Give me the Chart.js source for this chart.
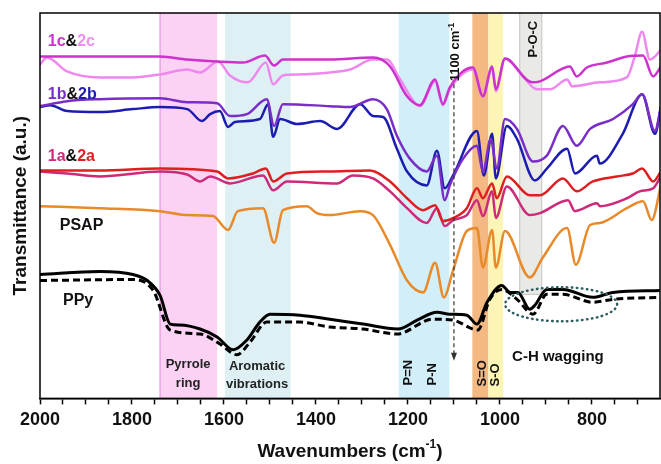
<!DOCTYPE html>
<html>
<head>
<meta charset="utf-8">
<script src="https://cdn.jsdelivr.net/npm/chart.js@4.4.0/dist/chart.umd.min.js"></script>
<style>
html, body { margin: 0; padding: 0; background: #fff; }
</style>
</head>
<body>
<canvas id="ftirChart" width="661" height="464"></canvas>
<script>
// wavenumbers (cm-1) and transmittance (a.u., offset stacked) for each trace
const wn1c = [2000,1870,1739,1680,1615,1559,1511,1491,1472,1370,1276,1239,1202,1174,1141,1124,1109,1059,1037,1017,1009,989,930,913,848,833,811,767,724,689,667,650];
const t1c  = [345,345,345,342,340,339,346,336,342,342,344,335,305,296,322,297,314,334,305,335,312,343,319,320,335,325,334,339,345,346,325,335];

const wn2c = [2000,1985,1941,1870,1798,1739,1680,1652,1613,1587,1548,1509,1493,1472,1441,1370,1326,1276,1246,1217,1174,1141,1124,1109,1059,1037,1017,1009,989,950,920,891,854,843,783,724,707,691,674,663,650];
const t2c  = [337,344,330,324,324,327,332,329,340,326,319,339,317,326,327,329,332,342,342,322,295,320,296,312,332,305,334,310,343,325,312,312,322,315,319,324,345,370,342,345,352];

const wn1b = [2000,1941,1870,1739,1680,1615,1587,1550,1507,1491,1472,1370,1326,1276,1246,1224,1196,1159,1137,1120,1109,1080,1050,1037,1020,1007,989,963,928,898,863,833,804,754,711,691,663,650];
const t1b  = [295,300,302,303,299,298,285,287,302,275,297,295,294,302,292,265,242,229,245,200,215,242,255,229,262,232,282,272,239,245,275,255,272,282,297,307,270,294];

const wn2b = [2000,1978,1941,1870,1798,1739,1680,1648,1630,1609,1591,1576,1522,1504,1493,1478,1441,1391,1354,1304,1276,1254,1224,1202,1159,1137,1120,1102,1050,1035,1017,1009,985,963,924,898,854,837,789,783,733,691,663,650];
const t2b  = [294,296,290,289,292,294,292,280,287,290,274,279,282,297,264,282,277,280,272,297,285,284,252,229,215,250,212,225,270,225,267,222,275,262,220,232,252,227,245,237,267,307,267,294];

const wn2a = [2000,1870,1739,1615,1591,1537,1509,1493,1463,1370,1283,1239,1202,1167,1141,1124,1102,1072,1050,1037,1017,1007,985,935,913,863,833,798,746,711,691,667,650];
const t2a  = [230,230,232,229,222,227,232,219,227,229,230,219,202,190,195,179,182,192,212,202,217,202,224,205,205,222,209,219,224,227,232,219,229];

const wn1a = [2000,1941,1870,1739,1680,1652,1630,1587,1515,1493,1463,1354,1320,1276,1239,1202,1159,1137,1120,1102,1072,1050,1037,1017,1009,985,935,913,852,837,789,783,724,696,667,650];
const t1a  = [229,227,224,229,226,219,224,217,225,210,219,217,225,222,209,192,177,192,174,180,185,200,184,209,182,214,185,187,200,189,197,194,202,209,212,224];

const wnPSAP = [2000,1870,1739,1680,1624,1591,1570,1515,1491,1472,1420,1398,1370,1304,1276,1239,1202,1167,1141,1122,1102,1072,1050,1037,1017,1009,989,935,907,854,835,804,783,724,689,670,650];
const tPSAP  = [194,192,189,185,184,170,189,192,157,190,194,187,185,189,185,155,119,107,137,102,129,169,172,132,170,132,169,122,142,172,135,175,177,192,199,180,215];

const wnPPy = [2000,1870,1798,1767,1739,1717,1696,1652,1615,1580,1550,1522,1500,1435,1370,1298,1222,1180,1137,1109,1072,1050,1028,996,978,961,935,924,898,863,798,754,650];
const tPPy  = [125,128,125,119,104,75,74,70,62,49,59,77,85,84,80,75,70,79,87,85,84,75,97,114,107,107,90,94,110,110,102,107,109];

const wnPPy2 = [2000,1798,1754,1717,1652,1609,1572,1543,1507,1435,1370,1298,1224,1146,1102,1048,1022,996,963,928,898,863,798,754,650];
const tPPy2  = [119,120,109,69,65,55,44,57,77,77,72,70,65,80,79,69,100,110,100,85,105,105,97,100,102];

const tickValues = [2000,1950,1900,1850,1800,1750,1700,1650,1600,1550,1500,1450,1400,1350,1300,1250,1200,1150,1100,1050,1000,950,900,850,800,750,700];

const FONT = "'Liberation Sans', Arial, sans-serif";

function pts(xs, ys) {
    return xs.map((v, i) => ({x: v, y: ys[i]}));
}

function line(label, xs, ys, color, width, dash) {
    return {
        label: label,
        data: pts(xs, ys),
        borderColor: color,
        borderWidth: width,
        borderDash: dash || [],
        pointRadius: 0,
        fill: false,
        cubicInterpolationMode: 'monotone'
    };
}

// highlighted bands (cm-1)
const bands = [
    {from: 1740, to: 1615, fill: '#fbd2f3', edge: '#e48fdc'},
    {from: 1598, to: 1455, fill: '#def0f4'},
    {from: 1220, to: 1110, fill: '#d2eff9'},
    {from: 1060, to: 1025, fill: '#f4b983'},
    {from: 1025, to: 993, fill: '#fdf5b6'},
    {from: 958, to: 908, fill: '#e9e9e6', edge: '#c6c6c2', bottom: 105}
];

function drawRot(ctx, text, x, y, size) {
    ctx.save();
    ctx.translate(x, y);
    ctx.rotate(-Math.PI / 2);
    ctx.font = 'bold ' + size + 'px ' + FONT;
    ctx.textAlign = 'left';
    ctx.textBaseline = 'middle';
    ctx.fillText(text, 0, 0);
    ctx.restore();
}

function drawParts(ctx, parts, x, y, size) {
    ctx.font = 'bold ' + size + 'px ' + FONT;
    ctx.textAlign = 'left';
    ctx.textBaseline = 'middle';
    parts.forEach(p => {
        ctx.fillStyle = p[1];
        ctx.fillText(p[0], x, y);
        x += ctx.measureText(p[0]).width;
    });
}

const bandsPlugin = {
    id: 'bands',
    beforeDatasetsDraw(chart) {
        const {ctx, chartArea: a, scales: {x, y}} = chart;
        ctx.save();
        bands.forEach(b => {
            const x1 = x.getPixelForValue(b.from), x2 = x.getPixelForValue(b.to);
            const yb = b.bottom != null ? y.getPixelForValue(b.bottom) : a.bottom;
            ctx.fillStyle = b.fill;
            ctx.fillRect(x1, a.top, x2 - x1, yb - a.top);
            if (b.edge) {
                ctx.strokeStyle = b.edge;
                ctx.lineWidth = 1;
                ctx.beginPath();
                ctx.moveTo(x1 + 0.5, a.top);
                ctx.lineTo(x1 + 0.5, yb);
                if (b.bottom != null) {
                    ctx.lineTo(x2 - 0.5, yb);
                    ctx.lineTo(x2 - 0.5, a.top);
                }
                ctx.stroke();
            }
        });
        ctx.restore();
    },
    afterDatasetsDraw(chart) {
        const {ctx, chartArea: a, scales: {x, y}} = chart;
        ctx.save();
        // dotted ellipse around C-H wagging
        ctx.strokeStyle = '#2e5e60';
        ctx.lineWidth = 2.5;
        ctx.lineCap = 'round';
        ctx.setLineDash([0.5, 4.5]);
        ctx.beginPath();
        ctx.ellipse(x.getPixelForValue(867), y.getPixelForValue(95), 56, 17, 0, 0, Math.PI * 2);
        ctx.stroke();

        // 1100 cm-1 dashed arrow
        const xa = x.getPixelForValue(1100);
        ctx.lineCap = 'butt';
        ctx.strokeStyle = '#333';
        ctx.lineWidth = 1.2;
        ctx.setLineDash([4, 3]);
        ctx.beginPath();
        ctx.moveTo(xa, y.getPixelForValue(317));
        ctx.lineTo(xa, y.getPixelForValue(42));
        ctx.stroke();
        ctx.setLineDash([]);
        ctx.fillStyle = '#333';
        const ya = y.getPixelForValue(38);
        ctx.beginPath();
        ctx.moveTo(xa, ya);
        ctx.lineTo(xa - 3, ya - 8);
        ctx.lineTo(xa + 3, ya - 8);
        ctx.closePath();
        ctx.fill();

        ctx.fillStyle = '#111';
        // rotated labels
        const xl = x.getPixelForValue(1096), yl = y.getPixelForValue(320);
        drawRot(ctx, '1100 cm', xl, yl, 13);
        ctx.font = 'bold 13px ' + FONT;
        const w = ctx.measureText('1100 cm').width;
        drawRot(ctx, '-1', xl - 4, yl - w, 9);
        drawRot(ctx, 'P-O-C', x.getPixelForValue(928), y.getPixelForValue(344), 13);
        drawRot(ctx, 'P=N', x.getPixelForValue(1200), y.getPixelForValue(13), 13);
        drawRot(ctx, 'P-N', x.getPixelForValue(1146), y.getPixelForValue(13), 13);
        drawRot(ctx, 'S=O', x.getPixelForValue(1039), y.getPixelForValue(12), 13);
        drawRot(ctx, 'S-O', x.getPixelForValue(1009), y.getPixelForValue(12), 13);

        ctx.font = 'bold 15px ' + FONT;
        ctx.textAlign = 'center';
        ctx.textBaseline = 'middle';
        ctx.fillText('C-H wagging', x.getPixelForValue(874), y.getPixelForValue(42));
        ctx.fillStyle = '#222';
        ctx.font = 'bold 13px ' + FONT;
        ctx.fillText('Pyrrole', x.getPixelForValue(1678), y.getPixelForValue(34));
        ctx.fillText('ring', x.getPixelForValue(1678), y.getPixelForValue(15));
        ctx.fillText('Aromatic', x.getPixelForValue(1528), y.getPixelForValue(32));
        ctx.fillText('vibrations', x.getPixelForValue(1528), y.getPixelForValue(14));

        // series labels
        const x0 = x.getPixelForValue(1983);
        drawParts(ctx, [['1c', '#cc33cc'], ['&', '#111'], ['2c', '#ee90ee']], x0, y.getPixelForValue(360), 16);
        drawParts(ctx, [['1b', '#7a2ec8'], ['&', '#111'], ['2b', '#1c1cb0']], x0, y.getPixelForValue(307), 16);
        drawParts(ctx, [['1a', '#cc2a7a'], ['&', '#111'], ['2a', '#dd1f22']], x0, y.getPixelForValue(244), 16);
        drawParts(ctx, [['PSAP', '#111']], x.getPixelForValue(1957), y.getPixelForValue(174), 16);
        drawParts(ctx, [['PPy', '#111']], x.getPixelForValue(1950), y.getPixelForValue(99), 16);
        ctx.restore();
    },
    afterDraw(chart) {
        const {ctx, chartArea: a} = chart;
        ctx.save();
        ctx.strokeStyle = '#000';
        ctx.lineWidth = 1.5;
        ctx.strokeRect(a.left, a.top, a.right - a.left, a.bottom - a.top);

        // axis titles
        ctx.fillStyle = '#111';
        ctx.font = 'bold 19px ' + FONT;
        ctx.textBaseline = 'middle';
        const t = 'Wavenumbers (cm';
        const tw = ctx.measureText(t).width;
        ctx.font = 'bold 12px ' + FONT;
        const sw = ctx.measureText('-1').width;
        ctx.font = 'bold 19px ' + FONT;
        const pw = ctx.measureText(')').width;
        let xs = (a.left + a.right) / 2 - (tw + sw + pw) / 2;
        ctx.textAlign = 'left';
        ctx.fillText(t, xs, 452);
        ctx.font = 'bold 12px ' + FONT;
        ctx.fillText('-1', xs + tw, 445);
        ctx.font = 'bold 19px ' + FONT;
        ctx.fillText(')', xs + tw + sw, 452);

        ctx.translate(21, (a.top + a.bottom) / 2);
        ctx.rotate(-Math.PI / 2);
        ctx.textAlign = 'center';
        ctx.fillText('Transmittance (a.u.)', 0, 0);
        ctx.restore();
    }
};

const ftirChart = new Chart(document.getElementById('ftirChart'), {
    type: 'line',
    data: {
        datasets: [
            line('1c', wn1c, t1c, '#cc33cc', 2.5),
            line('2c', wn2c, t2c, '#ee88ee', 2.5),
            line('1b', wn1b, t1b, '#7a2ec8', 2.5),
            line('2b', wn2b, t2b, '#1c1cb0', 2.5),
            line('2a', wn2a, t2a, '#dd1f22', 2.5),
            line('1a', wn1a, t1a, '#cc2a7a', 2.5),
            line('PSAP', wnPSAP, tPSAP, '#e8892a', 2.5),
            line('PPy', wnPPy, tPPy, '#000', 3),
            line('PPy ', wnPPy2, tPPy2, '#000', 3, [7, 4])
        ]
    },
    options: {
        responsive: false,
        devicePixelRatio: 1,
        animation: false,
        layout: {padding: {left: 40, right: 1, top: 13, bottom: 28}},
        plugins: {legend: {display: false}, tooltip: {enabled: false}},
        scales: {
            x: {
                type: 'linear',
                reverse: true,
                min: 652,
                max: 2000,
                afterBuildTicks: (scale) => {
                    scale.ticks = tickValues.map(v => ({value: v}));
                },
                ticks: {
                    autoSkip: false,
                    maxRotation: 0,
                    padding: 5,
                    color: '#111',
                    font: {family: FONT, size: 18, weight: 'bold'},
                    callback: (v) => (v % 200 === 0 ? String(v) : '')
                },
                grid: {display: true, drawOnChartArea: false, drawTicks: true, tickLength: 6, tickWidth: 1.5, tickColor: '#000'},
                border: {display: true, color: '#000', width: 1.5}
            },
            y: {display: false, min: 0, max: 389}
        }
    },
    plugins: [bandsPlugin]
});
</script>
</body>
</html>
